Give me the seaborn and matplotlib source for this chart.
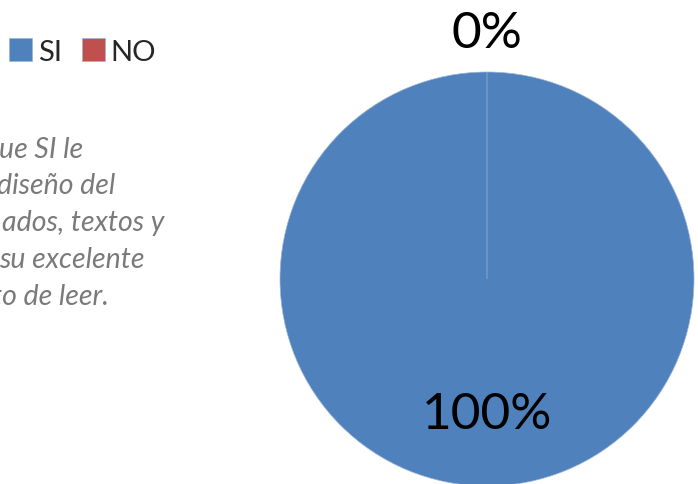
import numpy as np
import matplotlib
matplotlib.use("Agg")
import matplotlib.pyplot as plt
import seaborn as sns

# ----------------------------------------------------------
# Data
# ----------------------------------------------------------

categories = ["SI", "NO"]
values = [100, 0]
colors = ["#4F81BD", "#C0504D"]

note_lines = [
    "ue SI le",
    "diseño del",
    "ados, textos y",
    "su excelente",
    "to de leer.",
]

# ----------------------------------------------------------
# Style
# ----------------------------------------------------------

sns.set_theme(style="white")
plt.rcParams["font.family"] = ["Lato", "DejaVu Sans"]

W, H = 698, 485
fig = plt.figure(figsize=(W / 100, H / 100), dpi=100)

# pie area (pixel box -> figure fraction)
cx, cy, r = 487, 280, 207
ax = fig.add_axes([(cx - r) / W, (H - cy - r) / H, 2 * r / W, 2 * r / H])

wedges, texts, pcts = ax.pie(
    values,
    colors=colors,
    startangle=90,
    counterclock=False,
    autopct="%1.0f%%",
    pctdistance=0.65,
    wedgeprops=dict(edgecolor="#9DB5D8", linewidth=0.5),
    textprops=dict(fontsize=37, color="black"),
)
ax.set_xlim(-1, 1)
ax.set_ylim(-1, 1)
ax.set_aspect("equal")
ax.axis("off")

# move the 0% label outside the pie
for w, t, v in zip(wedges, pcts, values):
    if v == 0:
        ang = np.deg2rad((w.theta1 + w.theta2) / 2)
        t.set_position((np.cos(ang) * 1.19, np.sin(ang) * 1.19))
        t.set_ha("center")
        t.set_va("center")

# ----------------------------------------------------------
# Legend
# ----------------------------------------------------------

fig.legend(
    wedges, categories,
    loc="upper left",
    bbox_to_anchor=(9 / W, 1 - 39 / H),
    ncol=2,
    frameon=False,
    fontsize=21,
    handlelength=0.78,
    handleheight=0.85,
    handletextpad=0.2,
    columnspacing=0.7,
    borderpad=0,
    borderaxespad=0,
)

# ----------------------------------------------------------
# Side note (cut off at the left edge)
# ----------------------------------------------------------

line_ends = [83, 115, 164, 145, 109]
baselines = [158, 194, 231, 268, 305]
for txt, xe, yb in zip(note_lines, line_ends, baselines):
    fig.text(xe / W, 1 - yb / H, txt, ha="right", va="baseline",
             fontsize=20.5, style="italic", color="#7A7A7A")

fig.savefig("out.png", dpi=100)
